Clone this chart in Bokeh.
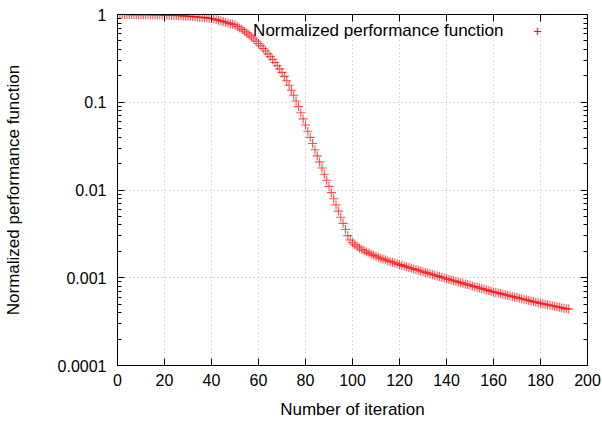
from bokeh.plotting import figure
from bokeh.models import (ColumnDataSource, Range1d, LinearAxis, LogAxis,
                          FixedTicker, CustomJSTickFormatter, Label)
from bokeh.embed import file_html
from bokeh.resources import INLINE

# Normalized performance function per training iteration
ITERATIONS = list(range(193))
VALUES = [
    1.000, 1.000, 0.999, 0.999, 0.999, 0.998, 0.998, 0.997, 0.997, 0.996, 0.996,
    0.995, 0.994, 0.993, 0.992, 0.991, 0.990, 0.989, 0.987, 0.986, 0.984,
    0.982, 0.980, 0.978, 0.976, 0.973, 0.970, 0.967, 0.964, 0.960, 0.956,
    0.952, 0.947, 0.943, 0.938, 0.932, 0.927, 0.921, 0.915, 0.908, 0.901,
    0.889, 0.875, 0.861, 0.847, 0.832, 0.817, 0.802, 0.787, 0.773, 0.759,
    0.730, 0.701, 0.673, 0.644, 0.617, 0.586, 0.556, 0.526, 0.497, 0.468,
    0.439, 0.410, 0.383, 0.356, 0.331, 0.307, 0.284, 0.261, 0.240, 0.219,
    0.197, 0.176, 0.156, 0.137, 0.120,
    0.1035, 0.0891, 0.0759, 0.0646, 0.0550, 0.0468, 0.0398, 0.0339, 0.0288, 0.0245,
    0.0209, 0.0178, 0.0151, 0.0129, 0.0110, 0.00933, 0.00794, 0.00676, 0.00575, 0.00490,
    0.00417, 0.00355, 0.00302, 0.00269, 0.00251,
    0.00237, 0.00226, 0.00218, 0.00210, 0.00203, 0.00196, 0.00191, 0.00185, 0.00180, 0.00176,
    0.00171, 0.00167, 0.00164, 0.00160, 0.00156, 0.00153, 0.00150, 0.00147, 0.00144, 0.00141,
    0.001384, 0.001358, 0.001334, 0.001309, 0.001285, 0.001262, 0.001239, 0.001216, 0.001194, 0.001172,
    0.001151, 0.001130, 0.001109, 0.001089, 0.001069, 0.001050, 0.001030, 0.001012, 0.000993, 0.000975,
    0.000958, 0.000942, 0.000926, 0.000910, 0.000894, 0.000879, 0.000864, 0.000849, 0.000835, 0.000820,
    0.000806, 0.000792, 0.000779, 0.000765, 0.000752, 0.000739, 0.000727, 0.000714, 0.000702, 0.000690,
    0.000680, 0.000670, 0.000660, 0.000650, 0.000640, 0.000631, 0.000621, 0.000612, 0.000603, 0.000594,
    0.000585, 0.000576, 0.000568, 0.000559, 0.000551, 0.000543, 0.000535, 0.000527, 0.000519, 0.000511,
    0.000505, 0.000498, 0.000492, 0.000486, 0.000480, 0.000474, 0.000468, 0.000462, 0.000456, 0.000450,
    0.000445, 0.000439,
]

X_TICKS = [0, 20, 40, 60, 80, 100, 120, 140, 160, 180, 200]
Y_TICKS = [0.0001, 0.001, 0.01, 0.1, 1]
Y_MINOR = [m * d for d in (0.0001, 0.001, 0.01, 0.1) for m in range(2, 10)]

SERIES_LABEL = "Normalized performance function"
X_TITLE = "Number of iteration"
Y_TITLE = "Normalized performance function"

FONT = "Liberation Sans"
RED = "#ff0000"

p = figure(width=602, height=421, x_range=Range1d(0, 200), y_range=Range1d(0.0001, 1),
           y_axis_type="log", output_backend="svg", toolbar_location=None,
           min_border_left=116, min_border_right=15, min_border_top=14, min_border_bottom=54)
p.background_fill_color = "white"
p.border_fill_color = "white"
p.outline_line_color = "black"
p.outline_line_width = 1

src = ColumnDataSource(dict(x=ITERATIONS, y=VALUES))
p.scatter("x", "y", source=src, marker="cross", size=9, line_color=RED, line_width=1.1,
          line_alpha=0.7)

# bottom / left axes with labels, ticks pointing inward
xa = p.xaxis[0]
xa.ticker = FixedTicker(ticks=X_TICKS)
ya = p.yaxis[0]
ya.ticker = FixedTicker(ticks=Y_TICKS, minor_ticks=Y_MINOR)
ya.formatter = CustomJSTickFormatter(code="return tick.toString();")

for ax in (xa, ya):
    ax.major_tick_in = 7
    ax.major_tick_out = 0
    ax.minor_tick_in = 4
    ax.minor_tick_out = 0
    ax.axis_line_color = "black"
    ax.major_tick_line_color = "black"
    ax.minor_tick_line_color = "black"
    ax.major_label_text_font = FONT
    ax.major_label_text_font_size = "16px"
    ax.major_label_text_color = "black"
    ax.axis_label_text_font = FONT
    ax.axis_label_text_font_size = "17px"
    ax.axis_label_text_font_style = "normal"
    ax.axis_label_text_color = "black"
xa.minor_tick_line_color = None
xa.major_label_standoff = 8
xa.axis_label = X_TITLE
xa.axis_label_standoff = 11
ya.major_label_standoff = 11
ya.axis_label = Y_TITLE
ya.axis_label_standoff = 32

# mirrored tick marks on top and right
blank = CustomJSTickFormatter(code="return '';")
top = LinearAxis(ticker=FixedTicker(ticks=X_TICKS), formatter=blank)
right = LogAxis(ticker=FixedTicker(ticks=Y_TICKS, minor_ticks=Y_MINOR), formatter=blank)
for ax in (top, right):
    ax.major_tick_in = 7
    ax.major_tick_out = 0
    ax.minor_tick_in = 4
    ax.minor_tick_out = 0
    ax.major_label_standoff = 0
    ax.major_label_text_font_size = "0px"
    ax.axis_line_color = "black"
    ax.major_tick_line_color = "black"
    ax.minor_tick_line_color = "black"
top.minor_tick_line_color = None
p.add_layout(top, "above")
p.add_layout(right, "right")

# dotted grid at major ticks
for g in (p.xgrid[0], p.ygrid[0]):
    g.grid_line_color = "#b4b4b4"
    g.grid_line_dash = "1 3"
    g.grid_line_width = 1

# key in the upper right: text followed by the sample marker
p.add_layout(Label(x=386, y=335, x_units="screen", y_units="screen", text=SERIES_LABEL,
                   text_font=FONT, text_font_size="17px", text_align="right",
                   text_baseline="middle", text_color="black"))
p.add_layout(Label(x=420, y=335, x_units="screen", y_units="screen", text="+",
                   text_font=FONT, text_font_size="14px", text_align="center",
                   text_baseline="middle", text_color=RED))

open("out.html", "w").write(file_html(p, INLINE))
